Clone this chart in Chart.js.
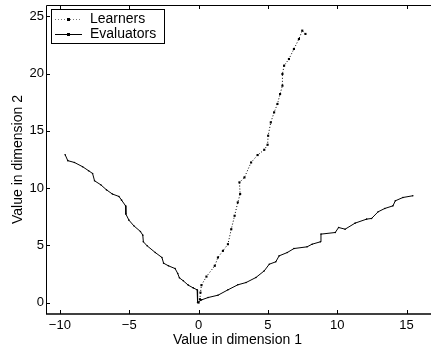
<!DOCTYPE html>
<html>
<head>
<meta charset="utf-8">
<script src="https://cdn.jsdelivr.net/npm/chart.js@4"></script>
<style>
  html, body { margin: 0; padding: 0; background: #fff; }
  #wrap { width: 433px; height: 351px; }
</style>
</head>
<body>
<div id="wrap"><canvas id="plot"></canvas></div>
<script>
// series values
var learnersX = [0, 0.1, 0.14, 0.21, 0.57, 1.17, 1.4, 1.76, 2.12, 2.36, 2.6, 2.83, 3.0, 2.95, 3.31, 3.79, 4.26, 4.74, 4.98, 5.02, 5.21, 5.45, 5.69, 5.88, 6.05, 6.05, 6.17, 6.52, 6.88, 7.24, 7.48, 7.71];
var learnersY = [0, 0.29, 0.87, 1.52, 2.27, 3.21, 3.94, 4.52, 5.1, 6.41, 7.58, 8.75, 9.48, 10.5, 10.93, 12.24, 12.89, 13.35, 13.79, 14.58, 15.74, 16.62, 17.35, 18.22, 18.95, 19.97, 20.7, 21.28, 22.16, 23.03, 23.76, 23.47];

var evalX = [-9.62, -9.43, -8.95, -8.36, -7.93, -7.64, -7.5, -7.05, -6.64, -6.21, -5.74, -5.55, -5.26, -5.24, -5.02, -4.67, -4.19, -4.02, -3.98, -3.71, -3.12, -2.64, -2.52, -2.17, -1.69, -1.5, -1.38, -1.1, -0.74, -0.38, -0.1, -0.07,
  0.21, 0.69, 1.4, 2.12, 2.83, 3.43, 4.14, 4.74, 5.1, 5.57, 5.81, 6.4, 6.88, 7.83, 8.19, 8.79, 8.83, 9.86, 10.1, 10.57, 11.29, 12.12, 12.48, 12.95, 13.43, 14.02, 14.19, 14.74, 15.45];
var evalY = [12.92, 12.4, 12.24, 11.87, 11.52, 11.28, 10.64, 10.29, 9.85, 9.48, 9.27, 8.95, 8.45, 7.73, 7.2, 6.71, 6.21, 5.89, 5.31, 4.96, 4.37, 3.94, 3.44, 3.21, 2.97, 2.54, 2.16, 1.9, 1.52, 1.28, 1.11, 0,
  0.23, 0.44, 0.64, 1.11, 1.55, 1.75, 2.19, 2.77, 3.35, 3.56, 4.08, 4.37, 4.72, 4.87, 5.1, 5.31, 5.98, 6.12, 6.56, 6.41, 6.94, 7.29, 7.35, 7.93, 8.22, 8.45, 8.89, 9.18, 9.33];

var xTicks = [-10, -5, 0, 5, 10, 15];
var yTicks = [0, 5, 10, 15, 20, 25];
var seriesNames = ['Learners', 'Evaluators'];

function toPoints(xs, ys) {
  return xs.map(function (x, i) { return { x: x, y: ys[i] }; });
}

var FONT = '"Liberation Sans", Arial, Helvetica, sans-serif';

// matlab style box (right side is cut off in the original), inward ticks, framed legend
var boxPlugin = {
  id: 'matlabBox',
  afterDraw: function (chart) {
    var ctx = chart.ctx, a = chart.chartArea;
    var sx = chart.scales.x, sy = chart.scales.y;
    ctx.save();
    ctx.strokeStyle = '#000';
    ctx.lineWidth = 1;
    ctx.beginPath();
    ctx.moveTo(a.right + 2, a.top + 0.5); ctx.lineTo(a.left + 0.5, a.top + 0.5);
    ctx.lineTo(a.left + 0.5, a.bottom);
    ctx.stroke();
    ctx.lineWidth = 1.6;
    ctx.beginPath();
    ctx.moveTo(a.left, a.bottom); ctx.lineTo(a.right + 2, a.bottom);
    ctx.stroke();
    ctx.lineWidth = 1;
    ctx.beginPath();
    xTicks.forEach(function (t) {
      var px = Math.round(sx.getPixelForValue(t)) + 0.5;
      ctx.moveTo(px, a.bottom); ctx.lineTo(px, a.bottom - 4);
      ctx.moveTo(px, a.top); ctx.lineTo(px, a.top + 4);
    });
    yTicks.forEach(function (t) {
      var py = Math.round(sy.getPixelForValue(t)) + 0.5;
      ctx.moveTo(a.left, py); ctx.lineTo(a.left + 4, py);
    });
    ctx.stroke();

    // legend
    var lx = 51, ly = 9, lw = 113, lh = 34;
    ctx.fillStyle = '#fff';
    ctx.fillRect(lx, ly, lw, lh);
    ctx.strokeRect(lx + 0.5, ly + 0.5, lw, lh);
    ctx.font = '14px ' + FONT;
    ctx.fillStyle = '#000';
    ctx.textBaseline = 'middle';
    var rows = [ly + 10, ly + 25];
    seriesNames.forEach(function (name, i) {
      var y = rows[i] + 0.5;
      ctx.beginPath();
      if (i === 0) { ctx.setLineDash([1, 2]); ctx.strokeStyle = '#777'; } else { ctx.setLineDash([]); ctx.strokeStyle = '#000'; }
      ctx.moveTo(lx + 4, y); ctx.lineTo(lx + 31, y);
      ctx.stroke();
      ctx.setLineDash([]);
      ctx.fillRect(lx + 16, y - 1.5, 3, 3);
      ctx.fillText(name, lx + 39, rows[i]);
    });
    ctx.restore();
  }
};

var ctx = document.getElementById('plot').getContext('2d');
new Chart(ctx, {
  type: 'scatter',
  data: {
    datasets: [
      {
        label: seriesNames[0],
        data: toPoints(learnersX, learnersY),
        showLine: true,
        borderColor: '#000',
        backgroundColor: '#000',
        borderWidth: 1,
        borderDash: [1, 2],
        pointRadius: 1.5,
        pointStyle: 'rect',
        pointBorderWidth: 0
      },
      {
        label: seriesNames[1],
        data: toPoints(evalX, evalY),
        showLine: true,
        borderColor: '#000',
        backgroundColor: '#000',
        borderWidth: 1,
        pointRadius: 0.8,
        pointBorderWidth: 0
      }
    ]
  },
  options: {
    responsive: true,
    maintainAspectRatio: false,
    animation: false,
    layout: { padding: { top: 5, right: 0, left: 10, bottom: 2 } },
    plugins: { legend: { display: false }, tooltip: { enabled: false } },
    scales: {
      x: {
        type: 'linear',
        min: -11, max: 16.62,
        afterBuildTicks: function (s) { s.ticks = xTicks.map(function (v) { return { value: v }; }); },
        afterFit: function (s) { s.height = 35; s.paddingLeft = 0; s.paddingRight = 0; },
        grid: { display: false, drawTicks: false },
        border: { display: false },
        ticks: {
          color: '#000', padding: 4,
          font: { family: FONT, size: 13 },
          callback: function (v) { return String(v).replace('-', '\u2212'); }
        },
        title: { display: true, text: 'Value in dimension 1', color: '#000', padding: { top: 0, bottom: 0 }, font: { family: FONT, size: 14 } }
      },
      y: {
        type: 'linear',
        min: -1, max: 26,
        afterBuildTicks: function (s) { s.ticks = yTicks.map(function (v) { return { value: v }; }); },
        afterFit: function (s) { s.width = 36; s.paddingTop = 0; s.paddingBottom = 0; },
        grid: { display: false, drawTicks: false },
        border: { display: false },
        ticks: { color: '#000', padding: 2, font: { family: FONT, size: 13 } },
        title: { display: true, text: 'Value in dimension 2', color: '#000', padding: { top: 0, bottom: 0 }, font: { family: FONT, size: 14 } }
      }
    }
  },
  plugins: [boxPlugin]
});
</script>
</body>
</html>
